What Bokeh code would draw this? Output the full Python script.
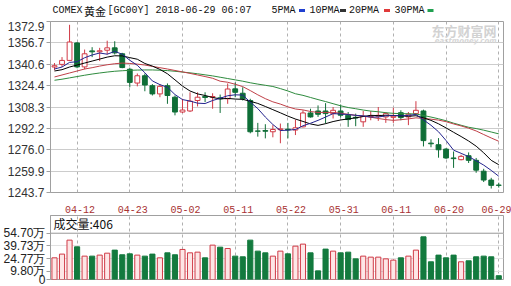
from bokeh.plotting import figure
from bokeh.layouts import column
from bokeh.models import (Range1d, FixedTicker, PrintfTickFormatter, Label, Span,
                          ColumnDataSource, CustomJSTickFormatter)
from bokeh.core.properties import value
from bokeh.embed import file_html
from bokeh.resources import INLINE

# ---------------- data ----------------
dates = ["04-09", "04-10", "04-11", "04-12", "04-13", "04-16", "04-17", "04-18", "04-19", "04-20",
         "04-23", "04-24", "04-25", "04-26", "04-27", "04-30",
         "05-01", "05-02", "05-03", "05-04", "05-07", "05-08", "05-09", "05-10", "05-11", "05-14",
         "05-15", "05-16", "05-17", "05-18", "05-21", "05-22", "05-23", "05-24", "05-25", "05-28",
         "05-29", "05-30", "05-31",
         "06-01", "06-04", "06-05", "06-06", "06-07", "06-08", "06-11", "06-12", "06-13", "06-14",
         "06-15", "06-18", "06-19", "06-20", "06-21", "06-22", "06-25", "06-26", "06-27", "06-28",
         "06-29"]

opens = [1338.5, 1340.5, 1343.5, 1356.7, 1338.6, 1350.7, 1350.0, 1351.2, 1353.0, 1348.5,
         1336.8, 1326.4, 1331.9, 1324.4, 1318.2, 1324.4, 1315.7, 1304.5, 1305.3, 1313.2,
         1316.3, 1315.7, 1315.2, 1314.5, 1322.0, 1318.7, 1313.2, 1290.2, 1290.5, 1289.6,
         1291.2, 1291.5, 1290.9, 1293.3, 1303.8, 1305.3, 1305.3, 1303.3, 1305.3, 1302.1,
         1300.5, 1297.1, 1301.0, 1301.3, 1300.8, 1300.5, 1304.0, 1300.8, 1303.3, 1305.3,
         1281.0, 1279.8, 1276.5, 1269.8, 1268.5, 1271.5, 1268.0, 1259.8, 1253.1, 1249.3]
highs = [1341.5, 1346.0, 1370.4, 1357.4, 1351.7, 1353.5, 1353.0, 1358.4, 1358.0, 1349.2,
         1338.0, 1333.6, 1333.6, 1325.6, 1325.6, 1326.1, 1317.0, 1314.5, 1319.4, 1319.4,
         1319.4, 1318.7, 1317.7, 1326.1, 1326.8, 1323.2, 1314.5, 1296.3, 1295.3, 1294.6,
         1295.8, 1296.3, 1298.8, 1305.8, 1307.0, 1309.5, 1311.2, 1308.3, 1310.2, 1304.5,
         1303.3, 1305.3, 1305.3, 1308.3, 1304.5, 1307.8, 1305.8, 1304.5, 1312.7, 1306.3,
         1283.9, 1284.8, 1277.2, 1274.7, 1272.2, 1274.0, 1269.8, 1261.6, 1254.8, 1251.1]
lows = [1336.0, 1338.6, 1343.0, 1337.6, 1336.8, 1346.0, 1343.0, 1348.0, 1348.0, 1337.6,
        1323.2, 1323.9, 1320.2, 1317.0, 1315.7, 1310.7, 1302.0, 1303.8, 1304.5, 1308.7,
        1312.0, 1307.0, 1303.8, 1310.7, 1315.7, 1313.2, 1288.4, 1285.9, 1284.6, 1285.4,
        1280.9, 1284.6, 1287.1, 1292.9, 1300.3, 1300.8, 1295.8, 1299.6, 1300.3, 1293.3,
        1293.8, 1293.3, 1298.3, 1297.8, 1296.3, 1296.3, 1298.3, 1294.6, 1302.8, 1278.5,
        1277.9, 1270.0, 1269.0, 1262.3, 1268.0, 1266.0, 1258.6, 1251.6, 1246.7, 1247.4]
closes = [1339.5, 1343.5, 1357.4, 1338.6, 1348.5, 1350.0, 1350.8, 1353.0, 1349.2, 1338.1,
          1326.9, 1331.9, 1324.9, 1318.2, 1323.9, 1317.0, 1304.5, 1306.0, 1312.7, 1315.7,
          1315.5, 1316.2, 1314.5, 1321.9, 1319.4, 1314.5, 1289.6, 1290.0, 1290.0, 1291.3,
          1291.8, 1291.0, 1292.6, 1303.8, 1300.8, 1302.8, 1303.3, 1305.8, 1302.1, 1298.8,
          1300.0, 1301.3, 1301.5, 1302.0, 1303.3, 1301.3, 1300.3, 1302.8, 1305.8, 1282.9,
          1280.5, 1276.0, 1269.8, 1269.3, 1271.0, 1268.0, 1260.6, 1253.1, 1249.1, 1249.1]
# volume in 万
volumes = [25.6, 30.0, 46.5, 38.6, 27.6, 27.6, 28.8, 31.1, 34.7, 29.2,
           30.3, 28.8, 27.6, 30.0, 25.6, 31.5, 29.2, 35.5, 31.5, 32.3,
           25.6, 40.6, 38.2, 36.6, 27.6, 26.8, 46.5, 33.5, 31.5, 27.6,
           33.5, 30.3, 39.4, 41.8, 31.5, 10.2, 35.9, 33.5, 31.5, 32.3,
           24.4, 27.6, 26.4, 26.4, 24.4, 22.9, 25.6, 27.6, 34.7, 50.4,
           20.9, 28.8, 25.6, 28.8, 20.9, 22.1, 26.8, 27.6, 26.8, 4.5]

ma5 = [1337.0, 1338.5, 1342.0, 1342.5, 1345.5, 1347.6, 1349.1, 1348.2, 1350.3, 1348.2,
       1343.6, 1339.8, 1334.2, 1328.0, 1325.2, 1323.2, 1317.7, 1313.9, 1312.8, 1311.2,
       1310.9, 1313.2, 1314.9, 1316.8, 1317.5, 1317.3, 1312.0, 1307.1, 1300.7, 1295.1,
       1290.5, 1290.8, 1291.3, 1294.1, 1296.0, 1298.2, 1300.7, 1303.3, 1303.0, 1302.6,
       1302.0, 1301.6, 1300.7, 1300.7, 1301.6, 1301.9, 1301.7, 1301.9, 1302.7, 1298.6,
       1294.5, 1289.6, 1283.0, 1275.7, 1273.3, 1270.8, 1267.7, 1264.4, 1260.4, 1256.0]
ma10 = [1335.5, 1336.5, 1338.5, 1340.0, 1341.5, 1343.0, 1344.5, 1346.0, 1347.0, 1346.9,
        1345.6, 1344.4, 1341.2, 1339.2, 1336.7, 1333.4, 1328.8, 1324.1, 1320.4, 1318.2,
        1317.0, 1315.5, 1314.4, 1314.8, 1314.3, 1314.1, 1312.6, 1311.0, 1308.7, 1306.3,
        1303.9, 1301.4, 1299.2, 1297.4, 1295.5, 1294.4, 1295.7, 1297.3, 1298.5, 1299.3,
        1300.1, 1301.1, 1302.0, 1301.8, 1302.1, 1301.9, 1301.6, 1301.3, 1301.7, 1300.1,
        1298.2, 1295.6, 1292.5, 1289.2, 1286.0, 1282.6, 1278.7, 1273.7, 1268.0, 1264.7]
ma20 = [1331.0, 1332.5, 1334.0, 1335.5, 1337.0, 1338.0, 1339.2, 1340.2, 1341.0, 1341.5,
        1341.2, 1340.7, 1340.0, 1339.0, 1338.0, 1337.0, 1335.9, 1334.8, 1333.7, 1332.5,
        1331.3, 1330.0, 1327.8, 1327.0, 1325.5, 1323.7, 1320.7, 1317.5, 1314.6, 1312.2,
        1310.5, 1308.4, 1306.8, 1306.1, 1304.9, 1304.2, 1304.2, 1304.2, 1303.6, 1302.8,
        1302.0, 1301.3, 1300.6, 1299.6, 1298.8, 1298.2, 1298.7, 1299.3, 1300.1, 1299.7,
        1299.1, 1298.4, 1297.2, 1295.5, 1294.0, 1292.3, 1290.2, 1287.5, 1284.9, 1282.4]
ma30 = [1328.5, 1329.3, 1330.3, 1331.3, 1332.3, 1333.2, 1334.0, 1334.7, 1335.3, 1335.7,
        1336.0, 1336.2, 1336.3, 1336.3, 1336.1, 1335.8, 1335.3, 1334.7, 1334.1, 1333.4,
        1332.6, 1331.8, 1330.8, 1329.8, 1328.8, 1327.8, 1326.6, 1325.6, 1324.7, 1323.8,
        1322.2, 1320.4, 1318.3, 1317.1, 1315.5, 1313.9, 1312.4, 1310.8, 1309.2, 1307.9,
        1307.0, 1306.0, 1305.2, 1304.7, 1304.0, 1303.5, 1303.3, 1303.2, 1303.0, 1301.9,
        1300.7, 1299.4, 1297.9, 1296.1, 1294.5, 1293.0, 1292.0, 1290.8, 1289.4, 1288.0]

tick_idx = [3, 10, 17, 24, 31, 38, 45, 52, 59]
price_ticks = [1243.7, 1259.9, 1276.0, 1292.2, 1308.3, 1324.4, 1340.6, 1356.7, 1372.9]
vol_ticks = [0, 9.80, 24.77, 39.73, 54.70]

title_parts = ["COMEX", "黄金", "[GC00Y] 2018-06-29 06:07"]
legend_names = ["5PMA", "10PMA", "20PMA", "30PMA"]
ma_colors = ["#23238e", "#000000", "#c04048", "#2e8b3e"]
legend_colors = ["#2040d0", "#333333", "#e03a3a", "#20a050"]
vol_label = "成交量:406"

# ---------------- styles / layout ----------------
RED = "#d03a46"
GREEN = "#0f6e37"
VGREEN = "#137a3e"
VPINK = "#fde6e6"
GRID = "#cccccc"
VGRID = "#b0b0b0"
BORDER = "#a0a0a0"

W = 511
H_HEAD, H_MAIN, H_VOL = 21, 194, 71
FL, FR, FB = 50, 8, 22
XR = (-0.53, 59.63)
YR = (1243.7, 1372.9)
FW = W - FL - FR
VB = 7
VR = (0, 75.6)
VFH = H_VOL - VB
LABEL_SHIFT = 0.4   # date labels sit slightly right of their grid line


def dx(px):
    return XR[0] + (px - FL) / FW * (XR[1] - XR[0])


def vy(py):
    # py measured from top of the volume figure
    return VR[1] - py / VFH * (VR[1] - VR[0])


idx = list(range(len(closes)))
up = [c >= o for o, c in zip(opens, closes)]
src = ColumnDataSource(dict(
    x=idx, o=opens, h=highs, l=lows, c=closes,
    top=[max(o, c) for o, c in zip(opens, closes)],
    bottom=[min(o, c) for o, c in zip(opens, closes)],
    color=[RED if u else GREEN for u in up],
    fill=["white" if u else GREEN for u in up],
    vol=volumes,
    vline=[RED if u else VGREEN for u in up],
    vfill=[VPINK if u else VGREEN for u in up],
))

# ---------------- header strip (frame aligned with the charts below) ----------------
hd = figure(width=W, height=H_HEAD, x_range=Range1d(FL, W - FR), y_range=Range1d(0, H_HEAD),
            output_backend="svg", toolbar_location=None,
            x_axis_location=None, y_axis_location=None,
            min_border_left=FL, min_border_right=FR, min_border_top=0, min_border_bottom=0)
hd.outline_line_color = None
hd.grid.visible = False
hd.background_fill_color = "white"
hd.border_fill_color = "white"
HY = H_HEAD - 10
hd.text(x=[52, 107], y=[HY, HY], text=[title_parts[0], title_parts[2]],
        text_font=value("Liberation Mono"), text_font_size="10px",
        text_color="#111111", text_baseline="middle", text_align="left")
hd.text(x=[83.5], y=[HY], text=[title_parts[1]],
        text_font=value("Noto Sans CJK SC"), text_font_size="11px",
        text_color="#111111", text_baseline="middle", text_align="left")
leg_text_px = [271, 309, 348.5, 394]
leg_sw_px = [298.5, 339.5, 383.5, 427]
hd.text(x=leg_text_px, y=[HY] * 4, text=legend_names,
        text_font=value("Liberation Mono"), text_font_size="10px",
        text_color="#111111", text_baseline="middle", text_align="left")
hd.quad(left=leg_sw_px, right=[s + 6 for s in leg_sw_px],
        bottom=[HY - 1.5] * 4, top=[HY + 1.5] * 4,
        fill_color=legend_colors, line_color=None)

# ---------------- main chart ----------------
p = figure(width=W, height=H_MAIN, x_range=Range1d(*XR), y_range=Range1d(*YR),
           output_backend="svg", toolbar_location=None,
           min_border_left=FL, min_border_right=FR, min_border_top=0, min_border_bottom=FB)
p.background_fill_color = "white"
p.border_fill_color = "white"
p.outline_line_color = BORDER

p.ygrid.ticker = FixedTicker(ticks=price_ticks)
p.ygrid.grid_line_color = GRID
p.xgrid.ticker = FixedTicker(ticks=tick_idx)
p.xgrid.grid_line_color = VGRID
p.xgrid.grid_line_dash = "3 3"

p.yaxis.ticker = FixedTicker(ticks=price_ticks)
p.yaxis.formatter = PrintfTickFormatter(format="%.1f")
p.yaxis.axis_line_color = BORDER
p.yaxis.major_tick_line_color = BORDER
p.yaxis.major_tick_out = 4
p.yaxis.major_tick_in = 0
p.yaxis.minor_tick_line_color = None
p.yaxis.major_label_standoff = 2
p.yaxis.major_label_text_font = "Liberation Sans"
p.yaxis.major_label_text_font_size = "12px"
p.yaxis.major_label_text_color = "#333333"

p.xaxis.ticker = FixedTicker(ticks=[t + LABEL_SHIFT for t in tick_idx])
p.xaxis.formatter = CustomJSTickFormatter(args=dict(dates=dates),
                                          code="return dates[Math.round(tick - 0.4)] || '';")
p.xaxis.axis_line_color = None
p.xaxis.major_tick_line_color = None
p.xaxis.minor_tick_line_color = None
p.xaxis.major_label_standoff = 7
p.xaxis.major_label_text_font = "Liberation Mono"
p.xaxis.major_label_text_font_size = "10px"
p.xaxis.major_label_text_color = "#a83232"

# watermark (inside the frame)
ytop = YR[1]
ppu = (H_MAIN - FB) / (YR[1] - YR[0])
p.add_layout(Label(x=dx(496), y=ytop - 9 / ppu, text="东方财富网", text_font="Noto Sans CJK SC",
                   text_font_size="13px", text_font_style="bold", text_color="#d2d2d2",
                   text_baseline="middle", text_align="right"))
p.add_layout(Label(x=dx(496), y=ytop - 20 / ppu, text="eastmoney.com", text_font="DejaVu Sans",
                   text_font_size="7px", text_font_style="bold italic", text_color="#d6d6d6",
                   text_baseline="middle", text_align="right"))

p.segment(x0="x", y0="h", x1="x", y1="l", line_color="color", line_width=1, source=src)
p.vbar(x="x", width=0.64, top="top", bottom="bottom", fill_color="fill",
       line_color="color", line_width=1, source=src)

for ma, col in zip([ma30, ma20, ma10, ma5], [ma_colors[3], ma_colors[2], ma_colors[1], ma_colors[0]]):
    p.line(idx, ma, line_color=col, line_width=1)

# ---------------- volume chart ----------------
v = figure(width=W, height=H_VOL, x_range=p.x_range, y_range=Range1d(*VR),
           output_backend="svg", toolbar_location=None,
           min_border_left=FL, min_border_right=FR, min_border_top=0, min_border_bottom=VB)
v.background_fill_color = "white"
v.border_fill_color = "white"
v.outline_line_color = BORDER
v.xaxis.visible = False
v.xgrid.ticker = FixedTicker(ticks=tick_idx)
v.xgrid.grid_line_color = VGRID
v.xgrid.grid_line_dash = "3 3"
v.ygrid.ticker = FixedTicker(ticks=vol_ticks)
v.ygrid.grid_line_color = "#e2e2e2"

v.yaxis.ticker = FixedTicker(ticks=vol_ticks)
v.yaxis.formatter = CustomJSTickFormatter(
    code="return tick == 0 ? '0' : tick.toFixed(2) + '万';")
v.yaxis.axis_line_color = BORDER
v.yaxis.major_tick_line_color = BORDER
v.yaxis.major_tick_out = 4
v.yaxis.major_tick_in = 0
v.yaxis.minor_tick_line_color = None
v.yaxis.major_label_standoff = 1
v.yaxis.major_label_text_font = "Liberation Sans"
v.yaxis.major_label_text_font_size = "12px"
v.yaxis.major_label_text_color = "#222222"

v.add_layout(Span(location=vol_ticks[-1], dimension="width", line_color=BORDER, line_width=1))
v.vbar(x="x", width=0.68, top="vol", bottom=0, fill_color="vfill", line_color="vline",
       line_width=1, source=src)
v.add_layout(Label(x=dx(53), y=vy(8), text=vol_label,
                   text_font="Noto Sans CJK SC", text_font_size="12px",
                   text_color="#111111", text_baseline="middle", text_align="left"))

layout = column(hd, p, v, spacing=0)
open("out.html", "w").write(file_html(layout, INLINE))
